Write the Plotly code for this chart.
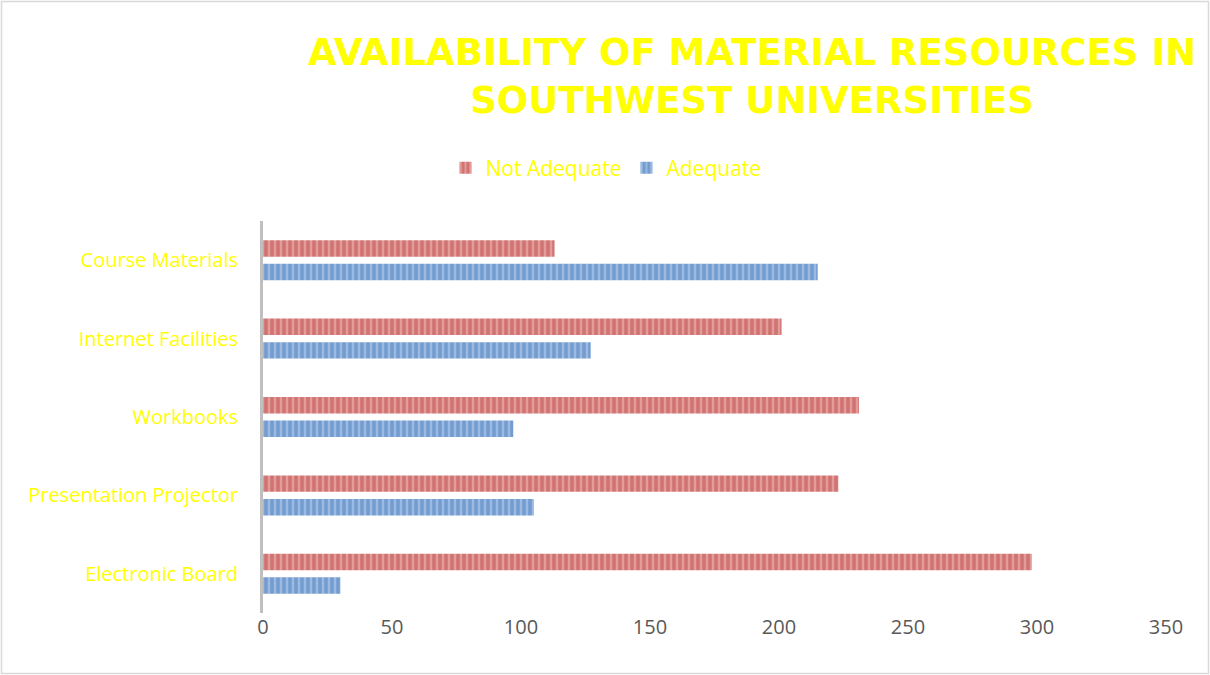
import plotly.graph_objects as go

categories = ["Electronic Board", "Presentation Projector", "Workbooks", "Internet Facilities", "Course Materials"]
not_adequate = [298, 223, 231, 201, 113]
adequate = [30, 105, 97, 127, 215]
x_ticks = [0, 50, 100, 150, 200, 250, 300, 350]

fig = go.Figure()
fig.add_trace(go.Bar(
    y=categories, x=adequate, name="Adequate", orientation="h",
    marker=dict(color="#9DBAE3", line=dict(width=0),
                pattern=dict(shape="|", fgcolor="#4A7EBB", bgcolor="#9DBAE3", size=6, solidity=0.6)),
))
fig.add_trace(go.Bar(
    y=categories, x=not_adequate, name="Not Adequate", orientation="h",
    marker=dict(color="#E39C9B", line=dict(width=0),
                pattern=dict(shape="|", fgcolor="#BE4B48", bgcolor="#E39C9B", size=6, solidity=0.6)),
))

W, H = 1210, 675
L, R, T, B = 263, 44, 221, 62
pw, ph = W - L - R, H - T - B

def px2x(px):
    return (px - L) / pw

def py2y(py):
    return (H - B - py) / ph

fig.update_layout(
    width=W, height=H,
    margin=dict(l=L, r=R, t=T, b=B),
    paper_bgcolor="white", plot_bgcolor="white",
    barmode="group", bargap=0.40, bargroupgap=0.30,
    title=dict(
        text="AVAILABILITY OF MATERIAL RESOURCES IN<br>SOUTHWEST UNIVERSITIES",
        x=752 / W, xanchor="center", y=1 - 65 / H, yanchor="top",
        font=dict(family="DejaVu Sans", size=37, color="#FFFF00", weight="bold"),
    ),
    legend=dict(
        orientation="h", x=px2x(606), xanchor="center", y=py2y(168), yanchor="middle",
        traceorder="reversed", font=dict(family="Open Sans", size=21, color="#FFFF00"),
        itemwidth=30,
    ),
    xaxis=dict(
        range=[0, 350], tickvals=x_ticks, showgrid=False, zeroline=False,
        showline=False, ticks="", tickfont=dict(family="Open Sans", size=20, color="#595959"),
    ),
    yaxis=dict(
        range=[-0.5, 4.5], showgrid=False, zeroline=False, showline=True,
        linecolor="#BFBFBF", linewidth=3, ticks="", ticklabelstandoff=18,
        tickfont=dict(family="Open Sans", size=20, color="#FFFF00"),
    ),
    showlegend=True,
)

fig.add_shape(type="rect", xref="paper", yref="paper",
              x0=px2x(1.5), x1=px2x(1208.5), y0=py2y(673.5), y1=py2y(1.5),
              line=dict(color="#D9D9D9", width=1.5), fillcolor="rgba(0,0,0,0)", layer="below")

fig.write_html("out.html", config={"displayModeBar": False},
               post_script="document.body.style.margin='0';")
